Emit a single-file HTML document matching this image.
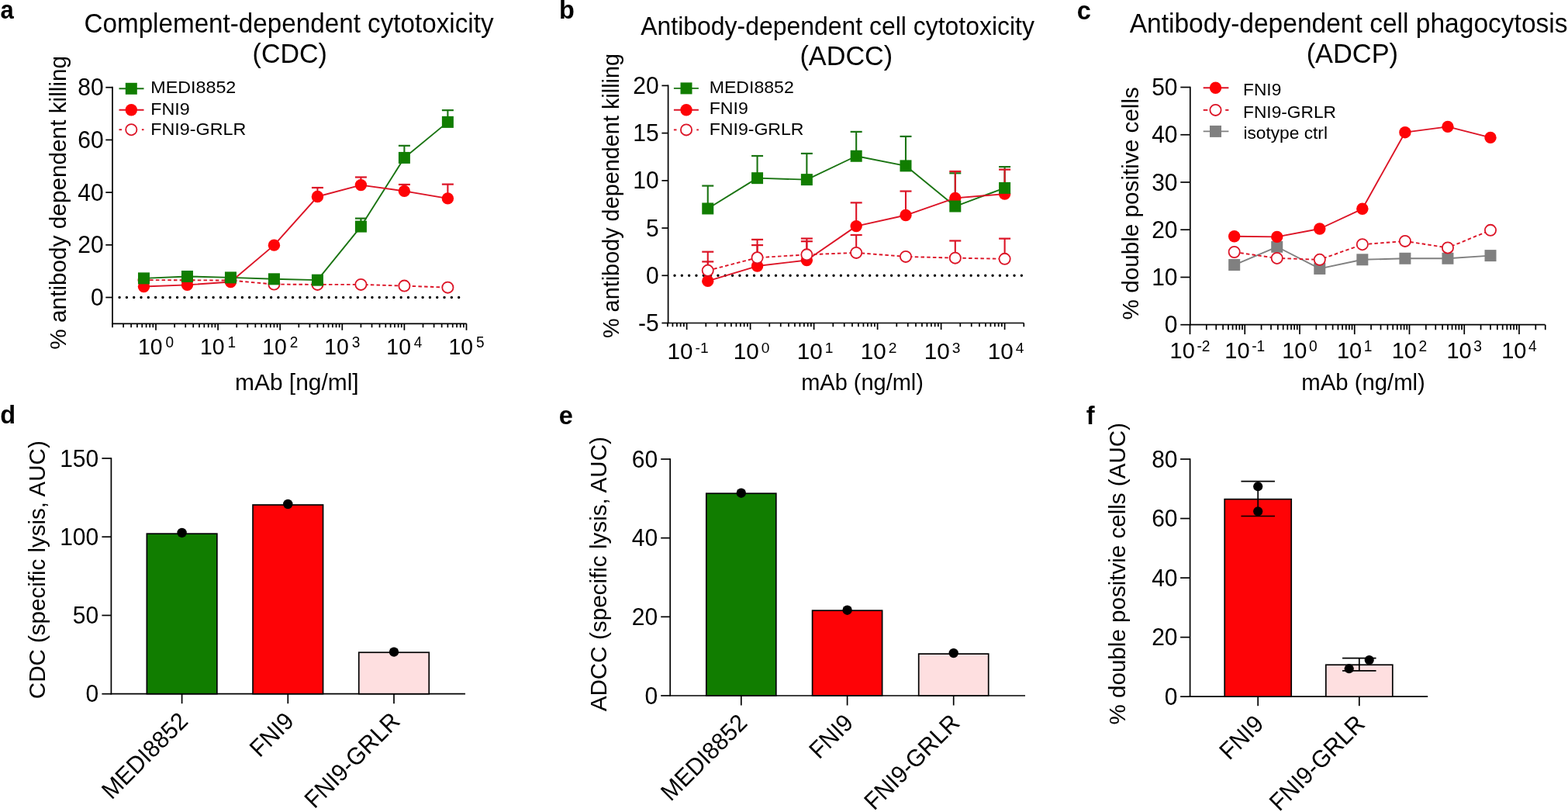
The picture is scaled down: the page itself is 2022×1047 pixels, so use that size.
<!DOCTYPE html>
<html><head><meta charset="utf-8"><title>Figure</title>
<style>
html,body{margin:0;padding:0;background:#fff;overflow:hidden;width:2022px;height:1047px}
svg{display:block}
text{font-family:'Liberation Sans',Arial,sans-serif;fill:#000}
</style></head>
<body>
<svg width="2022" height="1047" viewBox="0 0 2022 1047">
<rect width="2022" height="1047" fill="#fff"/>
<line x1="145.00" y1="111.85" x2="145.00" y2="418.15" stroke="#000" stroke-width="1.7"/>
<line x1="144.15" y1="417.30" x2="601.60" y2="417.30" stroke="#000" stroke-width="1.7"/>
<line x1="136.30" y1="383.50" x2="145.00" y2="383.50" stroke="#000" stroke-width="1.7"/>
<text transform="translate(133.60,394.10) scale(1,1.04)" style="font-size:30px" text-anchor="end">0</text>
<line x1="136.30" y1="315.80" x2="145.00" y2="315.80" stroke="#000" stroke-width="1.7"/>
<text transform="translate(133.60,326.40) scale(1,1.04)" style="font-size:30px" text-anchor="end">20</text>
<line x1="136.30" y1="248.10" x2="145.00" y2="248.10" stroke="#000" stroke-width="1.7"/>
<text transform="translate(133.60,258.70) scale(1,1.04)" style="font-size:30px" text-anchor="end">40</text>
<line x1="136.30" y1="180.40" x2="145.00" y2="180.40" stroke="#000" stroke-width="1.7"/>
<text transform="translate(133.60,191.00) scale(1,1.04)" style="font-size:30px" text-anchor="end">60</text>
<line x1="136.30" y1="112.70" x2="145.00" y2="112.70" stroke="#000" stroke-width="1.7"/>
<text transform="translate(133.60,123.30) scale(1,1.04)" style="font-size:30px" text-anchor="end">80</text>
<line x1="145.01" y1="417.30" x2="145.01" y2="422.30" stroke="#000" stroke-width="1.7"/>
<line x1="159.12" y1="417.30" x2="159.12" y2="422.30" stroke="#000" stroke-width="1.7"/>
<line x1="169.13" y1="417.30" x2="169.13" y2="422.30" stroke="#000" stroke-width="1.7"/>
<line x1="176.89" y1="417.30" x2="176.89" y2="422.30" stroke="#000" stroke-width="1.7"/>
<line x1="183.23" y1="417.30" x2="183.23" y2="422.30" stroke="#000" stroke-width="1.7"/>
<line x1="188.59" y1="417.30" x2="188.59" y2="422.30" stroke="#000" stroke-width="1.7"/>
<line x1="193.24" y1="417.30" x2="193.24" y2="422.30" stroke="#000" stroke-width="1.7"/>
<line x1="197.33" y1="417.30" x2="197.33" y2="422.30" stroke="#000" stroke-width="1.7"/>
<line x1="201.00" y1="417.30" x2="201.00" y2="425.80" stroke="#000" stroke-width="1.7"/>
<line x1="225.11" y1="417.30" x2="225.11" y2="422.30" stroke="#000" stroke-width="1.7"/>
<line x1="239.22" y1="417.30" x2="239.22" y2="422.30" stroke="#000" stroke-width="1.7"/>
<line x1="249.23" y1="417.30" x2="249.23" y2="422.30" stroke="#000" stroke-width="1.7"/>
<line x1="256.99" y1="417.30" x2="256.99" y2="422.30" stroke="#000" stroke-width="1.7"/>
<line x1="263.33" y1="417.30" x2="263.33" y2="422.30" stroke="#000" stroke-width="1.7"/>
<line x1="268.69" y1="417.30" x2="268.69" y2="422.30" stroke="#000" stroke-width="1.7"/>
<line x1="273.34" y1="417.30" x2="273.34" y2="422.30" stroke="#000" stroke-width="1.7"/>
<line x1="277.43" y1="417.30" x2="277.43" y2="422.30" stroke="#000" stroke-width="1.7"/>
<line x1="281.10" y1="417.30" x2="281.10" y2="425.80" stroke="#000" stroke-width="1.7"/>
<line x1="305.21" y1="417.30" x2="305.21" y2="422.30" stroke="#000" stroke-width="1.7"/>
<line x1="319.32" y1="417.30" x2="319.32" y2="422.30" stroke="#000" stroke-width="1.7"/>
<line x1="329.33" y1="417.30" x2="329.33" y2="422.30" stroke="#000" stroke-width="1.7"/>
<line x1="337.09" y1="417.30" x2="337.09" y2="422.30" stroke="#000" stroke-width="1.7"/>
<line x1="343.43" y1="417.30" x2="343.43" y2="422.30" stroke="#000" stroke-width="1.7"/>
<line x1="348.79" y1="417.30" x2="348.79" y2="422.30" stroke="#000" stroke-width="1.7"/>
<line x1="353.44" y1="417.30" x2="353.44" y2="422.30" stroke="#000" stroke-width="1.7"/>
<line x1="357.53" y1="417.30" x2="357.53" y2="422.30" stroke="#000" stroke-width="1.7"/>
<line x1="361.20" y1="417.30" x2="361.20" y2="425.80" stroke="#000" stroke-width="1.7"/>
<line x1="385.31" y1="417.30" x2="385.31" y2="422.30" stroke="#000" stroke-width="1.7"/>
<line x1="399.42" y1="417.30" x2="399.42" y2="422.30" stroke="#000" stroke-width="1.7"/>
<line x1="409.43" y1="417.30" x2="409.43" y2="422.30" stroke="#000" stroke-width="1.7"/>
<line x1="417.19" y1="417.30" x2="417.19" y2="422.30" stroke="#000" stroke-width="1.7"/>
<line x1="423.53" y1="417.30" x2="423.53" y2="422.30" stroke="#000" stroke-width="1.7"/>
<line x1="428.89" y1="417.30" x2="428.89" y2="422.30" stroke="#000" stroke-width="1.7"/>
<line x1="433.54" y1="417.30" x2="433.54" y2="422.30" stroke="#000" stroke-width="1.7"/>
<line x1="437.63" y1="417.30" x2="437.63" y2="422.30" stroke="#000" stroke-width="1.7"/>
<line x1="441.30" y1="417.30" x2="441.30" y2="425.80" stroke="#000" stroke-width="1.7"/>
<line x1="465.41" y1="417.30" x2="465.41" y2="422.30" stroke="#000" stroke-width="1.7"/>
<line x1="479.52" y1="417.30" x2="479.52" y2="422.30" stroke="#000" stroke-width="1.7"/>
<line x1="489.53" y1="417.30" x2="489.53" y2="422.30" stroke="#000" stroke-width="1.7"/>
<line x1="497.29" y1="417.30" x2="497.29" y2="422.30" stroke="#000" stroke-width="1.7"/>
<line x1="503.63" y1="417.30" x2="503.63" y2="422.30" stroke="#000" stroke-width="1.7"/>
<line x1="508.99" y1="417.30" x2="508.99" y2="422.30" stroke="#000" stroke-width="1.7"/>
<line x1="513.64" y1="417.30" x2="513.64" y2="422.30" stroke="#000" stroke-width="1.7"/>
<line x1="517.73" y1="417.30" x2="517.73" y2="422.30" stroke="#000" stroke-width="1.7"/>
<line x1="521.40" y1="417.30" x2="521.40" y2="425.80" stroke="#000" stroke-width="1.7"/>
<line x1="545.51" y1="417.30" x2="545.51" y2="422.30" stroke="#000" stroke-width="1.7"/>
<line x1="559.62" y1="417.30" x2="559.62" y2="422.30" stroke="#000" stroke-width="1.7"/>
<line x1="569.63" y1="417.30" x2="569.63" y2="422.30" stroke="#000" stroke-width="1.7"/>
<line x1="577.39" y1="417.30" x2="577.39" y2="422.30" stroke="#000" stroke-width="1.7"/>
<line x1="583.73" y1="417.30" x2="583.73" y2="422.30" stroke="#000" stroke-width="1.7"/>
<line x1="589.09" y1="417.30" x2="589.09" y2="422.30" stroke="#000" stroke-width="1.7"/>
<line x1="593.74" y1="417.30" x2="593.74" y2="422.30" stroke="#000" stroke-width="1.7"/>
<line x1="597.83" y1="417.30" x2="597.83" y2="422.30" stroke="#000" stroke-width="1.7"/>
<line x1="601.50" y1="417.30" x2="601.50" y2="425.80" stroke="#000" stroke-width="1.7"/>
<text transform="translate(177.97,456.70) scale(1,1.05)" style="font-size:28.4px">10</text>
<text transform="translate(213.46,447.50) scale(1,1.05)" style="font-size:19px">0</text>
<text transform="translate(258.07,456.70) scale(1,1.05)" style="font-size:28.4px">10</text>
<text transform="translate(293.56,447.50) scale(1,1.05)" style="font-size:19px">1</text>
<text transform="translate(338.17,456.70) scale(1,1.05)" style="font-size:28.4px">10</text>
<text transform="translate(373.66,447.50) scale(1,1.05)" style="font-size:19px">2</text>
<text transform="translate(418.27,456.70) scale(1,1.05)" style="font-size:28.4px">10</text>
<text transform="translate(453.76,447.50) scale(1,1.05)" style="font-size:19px">3</text>
<text transform="translate(498.37,456.70) scale(1,1.05)" style="font-size:28.4px">10</text>
<text transform="translate(533.86,447.50) scale(1,1.05)" style="font-size:19px">4</text>
<text transform="translate(578.47,456.70) scale(1,1.05)" style="font-size:28.4px">10</text>
<text transform="translate(613.96,447.50) scale(1,1.05)" style="font-size:19px">5</text>
<line x1="154.10" y1="383.50" x2="600.50" y2="383.50" stroke="#000" stroke-width="3.4" stroke-linecap="round" stroke-dasharray="0 9.31"/>
<line x1="465.41" y1="292.11" x2="465.41" y2="281.61" stroke="#1a7412" stroke-width="2.1"/>
<line x1="457.91" y1="281.61" x2="472.91" y2="281.61" stroke="#1a7412" stroke-width="2.2"/>
<line x1="521.40" y1="203.42" x2="521.40" y2="187.85" stroke="#1a7412" stroke-width="2.1"/>
<line x1="513.90" y1="187.85" x2="528.90" y2="187.85" stroke="#1a7412" stroke-width="2.2"/>
<line x1="577.39" y1="157.38" x2="577.39" y2="142.15" stroke="#1a7412" stroke-width="2.1"/>
<line x1="569.89" y1="142.15" x2="584.89" y2="142.15" stroke="#1a7412" stroke-width="2.2"/>
<polyline points="185.48,358.86 241.46,356.45 297.45,357.88 353.44,359.81 409.43,361.16 465.41,292.11 521.40,203.42 577.39,157.38" fill="none" stroke="#1a7412" stroke-width="1.9" stroke-linejoin="round"/>
<line x1="409.43" y1="253.52" x2="409.43" y2="242.01" stroke="#dc1426" stroke-width="2.1"/>
<line x1="401.93" y1="242.01" x2="416.93" y2="242.01" stroke="#dc1426" stroke-width="2.2"/>
<line x1="465.41" y1="238.62" x2="465.41" y2="228.47" stroke="#dc1426" stroke-width="2.1"/>
<line x1="457.91" y1="228.47" x2="472.91" y2="228.47" stroke="#dc1426" stroke-width="2.2"/>
<line x1="521.40" y1="246.41" x2="521.40" y2="237.94" stroke="#dc1426" stroke-width="2.1"/>
<line x1="513.90" y1="237.94" x2="528.90" y2="237.94" stroke="#dc1426" stroke-width="2.2"/>
<line x1="577.39" y1="255.89" x2="577.39" y2="237.61" stroke="#dc1426" stroke-width="2.1"/>
<line x1="569.89" y1="237.61" x2="584.89" y2="237.61" stroke="#dc1426" stroke-width="2.2"/>
<polyline points="185.48,369.49 241.46,367.39 297.45,363.56 353.44,316.14 409.43,253.52 465.41,238.62 521.40,246.41 577.39,255.89" fill="none" stroke="#dc1426" stroke-width="1.9" stroke-linejoin="round"/>
<polyline points="185.48,361.06 241.46,361.26 297.45,361.57 353.44,366.57 409.43,366.91 465.41,366.91 521.40,368.61 577.39,370.64" fill="none" stroke="#dc1426" stroke-width="1.9" stroke-linejoin="round" stroke-dasharray="4.5 3.2"/>
<circle cx="185.48" cy="361.06" r="7.10" fill="#fff" stroke="#dc1426" stroke-width="1.8"/>
<circle cx="241.46" cy="361.26" r="7.10" fill="#fff" stroke="#dc1426" stroke-width="1.8"/>
<circle cx="297.45" cy="361.57" r="7.10" fill="#fff" stroke="#dc1426" stroke-width="1.8"/>
<circle cx="353.44" cy="366.57" r="7.10" fill="#fff" stroke="#dc1426" stroke-width="1.8"/>
<circle cx="409.43" cy="366.91" r="7.10" fill="#fff" stroke="#dc1426" stroke-width="1.8"/>
<circle cx="465.41" cy="366.91" r="7.10" fill="#fff" stroke="#dc1426" stroke-width="1.8"/>
<circle cx="521.40" cy="368.61" r="7.10" fill="#fff" stroke="#dc1426" stroke-width="1.8"/>
<circle cx="577.39" cy="370.64" r="7.10" fill="#fff" stroke="#dc1426" stroke-width="1.8"/>
<circle cx="185.48" cy="369.49" r="7.70" fill="#fe0306"/>
<circle cx="241.46" cy="367.39" r="7.70" fill="#fe0306"/>
<circle cx="297.45" cy="363.56" r="7.70" fill="#fe0306"/>
<circle cx="353.44" cy="316.14" r="7.70" fill="#fe0306"/>
<circle cx="409.43" cy="253.52" r="7.70" fill="#fe0306"/>
<circle cx="465.41" cy="238.62" r="7.70" fill="#fe0306"/>
<circle cx="521.40" cy="246.41" r="7.70" fill="#fe0306"/>
<circle cx="577.39" cy="255.89" r="7.70" fill="#fe0306"/>
<rect x="177.98" y="351.36" width="15.00" height="15.00" fill="#117d00"/>
<rect x="233.96" y="348.95" width="15.00" height="15.00" fill="#117d00"/>
<rect x="289.95" y="350.38" width="15.00" height="15.00" fill="#117d00"/>
<rect x="345.94" y="352.31" width="15.00" height="15.00" fill="#117d00"/>
<rect x="401.93" y="353.66" width="15.00" height="15.00" fill="#117d00"/>
<rect x="457.91" y="284.61" width="15.00" height="15.00" fill="#117d00"/>
<rect x="513.90" y="195.92" width="15.00" height="15.00" fill="#117d00"/>
<rect x="569.89" y="149.88" width="15.00" height="15.00" fill="#117d00"/>
<line x1="153.50" y1="114.30" x2="185.50" y2="114.30" stroke="#1a7412" stroke-width="1.9"/>
<rect x="161.80" y="106.80" width="15.00" height="15.00" fill="#117d00"/>
<line x1="153.50" y1="141.80" x2="185.50" y2="141.80" stroke="#dc1426" stroke-width="1.9"/>
<circle cx="169.30" cy="141.80" r="7.70" fill="#fe0306"/>
<line x1="153.50" y1="167.20" x2="157.10" y2="167.20" stroke="#dc1426" stroke-width="1.9"/>
<line x1="182.90" y1="167.20" x2="185.50" y2="167.20" stroke="#dc1426" stroke-width="1.9"/>
<circle cx="169.30" cy="167.20" r="7.10" fill="#fff" stroke="#dc1426" stroke-width="1.8"/>
<text transform="translate(194.29,120.30) scale(1,0.96)" style="font-size:23.3px">MEDI8852</text>
<text transform="translate(194.29,147.70) scale(1,0.96)" style="font-size:23.3px">FNI9</text>
<text transform="translate(194.29,173.90) scale(1,0.96)" style="font-size:23.3px">FNI9-GRLR</text>
<text transform="translate(108.52,42.20) scale(1,1.045)" style="font-size:33.23px">Complement-dependent cytotoxicity</text>
<text transform="translate(325.59,81.00) scale(1,1.045)" style="font-size:33.97px">(CDC)</text>
<text transform="translate(303.02,503.00)" style="font-size:29.93px">mAb [ng/ml]</text>
<text transform="translate(85.10,450.66) rotate(-90)" style="font-size:29.76px">% antibody dependent killing</text>
<text transform="translate(0.60,23.90) scale(1,1.05)" style="font-size:31px;font-weight:bold">a</text>
<line x1="861.60" y1="109.55" x2="861.60" y2="417.35" stroke="#000" stroke-width="1.7"/>
<line x1="860.75" y1="416.50" x2="1320.30" y2="416.50" stroke="#000" stroke-width="1.7"/>
<line x1="853.40" y1="416.50" x2="861.60" y2="416.50" stroke="#000" stroke-width="1.7"/>
<text transform="translate(849.60,427.10) scale(1,1.04)" style="font-size:30px" text-anchor="end">-5</text>
<line x1="853.40" y1="355.28" x2="861.60" y2="355.28" stroke="#000" stroke-width="1.7"/>
<text transform="translate(849.60,365.88) scale(1,1.04)" style="font-size:30px" text-anchor="end">0</text>
<line x1="853.40" y1="294.06" x2="861.60" y2="294.06" stroke="#000" stroke-width="1.7"/>
<text transform="translate(849.60,304.66) scale(1,1.04)" style="font-size:30px" text-anchor="end">5</text>
<line x1="853.40" y1="232.84" x2="861.60" y2="232.84" stroke="#000" stroke-width="1.7"/>
<text transform="translate(849.60,243.44) scale(1,1.04)" style="font-size:30px" text-anchor="end">10</text>
<line x1="853.40" y1="171.62" x2="861.60" y2="171.62" stroke="#000" stroke-width="1.7"/>
<text transform="translate(849.60,182.22) scale(1,1.04)" style="font-size:30px" text-anchor="end">15</text>
<line x1="853.40" y1="110.40" x2="861.60" y2="110.40" stroke="#000" stroke-width="1.7"/>
<text transform="translate(849.60,121.00) scale(1,1.04)" style="font-size:30px" text-anchor="end">20</text>
<line x1="860.92" y1="416.50" x2="860.92" y2="421.30" stroke="#000" stroke-width="1.7"/>
<line x1="867.41" y1="416.50" x2="867.41" y2="421.30" stroke="#000" stroke-width="1.7"/>
<line x1="872.90" y1="416.50" x2="872.90" y2="421.30" stroke="#000" stroke-width="1.7"/>
<line x1="877.65" y1="416.50" x2="877.65" y2="421.30" stroke="#000" stroke-width="1.7"/>
<line x1="881.85" y1="416.50" x2="881.85" y2="421.30" stroke="#000" stroke-width="1.7"/>
<line x1="885.60" y1="416.50" x2="885.60" y2="425.10" stroke="#000" stroke-width="1.7"/>
<line x1="910.28" y1="416.50" x2="910.28" y2="421.30" stroke="#000" stroke-width="1.7"/>
<line x1="924.72" y1="416.50" x2="924.72" y2="421.30" stroke="#000" stroke-width="1.7"/>
<line x1="934.97" y1="416.50" x2="934.97" y2="421.30" stroke="#000" stroke-width="1.7"/>
<line x1="942.92" y1="416.50" x2="942.92" y2="421.30" stroke="#000" stroke-width="1.7"/>
<line x1="949.41" y1="416.50" x2="949.41" y2="421.30" stroke="#000" stroke-width="1.7"/>
<line x1="954.90" y1="416.50" x2="954.90" y2="421.30" stroke="#000" stroke-width="1.7"/>
<line x1="959.65" y1="416.50" x2="959.65" y2="421.30" stroke="#000" stroke-width="1.7"/>
<line x1="963.85" y1="416.50" x2="963.85" y2="421.30" stroke="#000" stroke-width="1.7"/>
<line x1="967.60" y1="416.50" x2="967.60" y2="425.10" stroke="#000" stroke-width="1.7"/>
<line x1="992.28" y1="416.50" x2="992.28" y2="421.30" stroke="#000" stroke-width="1.7"/>
<line x1="1006.72" y1="416.50" x2="1006.72" y2="421.30" stroke="#000" stroke-width="1.7"/>
<line x1="1016.97" y1="416.50" x2="1016.97" y2="421.30" stroke="#000" stroke-width="1.7"/>
<line x1="1024.92" y1="416.50" x2="1024.92" y2="421.30" stroke="#000" stroke-width="1.7"/>
<line x1="1031.41" y1="416.50" x2="1031.41" y2="421.30" stroke="#000" stroke-width="1.7"/>
<line x1="1036.90" y1="416.50" x2="1036.90" y2="421.30" stroke="#000" stroke-width="1.7"/>
<line x1="1041.65" y1="416.50" x2="1041.65" y2="421.30" stroke="#000" stroke-width="1.7"/>
<line x1="1045.85" y1="416.50" x2="1045.85" y2="421.30" stroke="#000" stroke-width="1.7"/>
<line x1="1049.60" y1="416.50" x2="1049.60" y2="425.10" stroke="#000" stroke-width="1.7"/>
<line x1="1074.28" y1="416.50" x2="1074.28" y2="421.30" stroke="#000" stroke-width="1.7"/>
<line x1="1088.72" y1="416.50" x2="1088.72" y2="421.30" stroke="#000" stroke-width="1.7"/>
<line x1="1098.97" y1="416.50" x2="1098.97" y2="421.30" stroke="#000" stroke-width="1.7"/>
<line x1="1106.92" y1="416.50" x2="1106.92" y2="421.30" stroke="#000" stroke-width="1.7"/>
<line x1="1113.41" y1="416.50" x2="1113.41" y2="421.30" stroke="#000" stroke-width="1.7"/>
<line x1="1118.90" y1="416.50" x2="1118.90" y2="421.30" stroke="#000" stroke-width="1.7"/>
<line x1="1123.65" y1="416.50" x2="1123.65" y2="421.30" stroke="#000" stroke-width="1.7"/>
<line x1="1127.85" y1="416.50" x2="1127.85" y2="421.30" stroke="#000" stroke-width="1.7"/>
<line x1="1131.60" y1="416.50" x2="1131.60" y2="425.10" stroke="#000" stroke-width="1.7"/>
<line x1="1156.28" y1="416.50" x2="1156.28" y2="421.30" stroke="#000" stroke-width="1.7"/>
<line x1="1170.72" y1="416.50" x2="1170.72" y2="421.30" stroke="#000" stroke-width="1.7"/>
<line x1="1180.97" y1="416.50" x2="1180.97" y2="421.30" stroke="#000" stroke-width="1.7"/>
<line x1="1188.92" y1="416.50" x2="1188.92" y2="421.30" stroke="#000" stroke-width="1.7"/>
<line x1="1195.41" y1="416.50" x2="1195.41" y2="421.30" stroke="#000" stroke-width="1.7"/>
<line x1="1200.90" y1="416.50" x2="1200.90" y2="421.30" stroke="#000" stroke-width="1.7"/>
<line x1="1205.65" y1="416.50" x2="1205.65" y2="421.30" stroke="#000" stroke-width="1.7"/>
<line x1="1209.85" y1="416.50" x2="1209.85" y2="421.30" stroke="#000" stroke-width="1.7"/>
<line x1="1213.60" y1="416.50" x2="1213.60" y2="425.10" stroke="#000" stroke-width="1.7"/>
<line x1="1238.28" y1="416.50" x2="1238.28" y2="421.30" stroke="#000" stroke-width="1.7"/>
<line x1="1252.72" y1="416.50" x2="1252.72" y2="421.30" stroke="#000" stroke-width="1.7"/>
<line x1="1262.97" y1="416.50" x2="1262.97" y2="421.30" stroke="#000" stroke-width="1.7"/>
<line x1="1270.92" y1="416.50" x2="1270.92" y2="421.30" stroke="#000" stroke-width="1.7"/>
<line x1="1277.41" y1="416.50" x2="1277.41" y2="421.30" stroke="#000" stroke-width="1.7"/>
<line x1="1282.90" y1="416.50" x2="1282.90" y2="421.30" stroke="#000" stroke-width="1.7"/>
<line x1="1287.65" y1="416.50" x2="1287.65" y2="421.30" stroke="#000" stroke-width="1.7"/>
<line x1="1291.85" y1="416.50" x2="1291.85" y2="421.30" stroke="#000" stroke-width="1.7"/>
<line x1="1295.60" y1="416.50" x2="1295.60" y2="425.10" stroke="#000" stroke-width="1.7"/>
<line x1="1320.28" y1="416.50" x2="1320.28" y2="421.30" stroke="#000" stroke-width="1.7"/>
<text transform="translate(860.60,463.10)" style="font-size:29.7px">10</text>
<text transform="translate(896.53,454.50)" style="font-size:19.2px">-1</text>
<text transform="translate(945.79,463.10)" style="font-size:29.7px">10</text>
<text transform="translate(981.73,454.50)" style="font-size:19.2px">0</text>
<text transform="translate(1027.79,463.10)" style="font-size:29.7px">10</text>
<text transform="translate(1063.73,454.50)" style="font-size:19.2px">1</text>
<text transform="translate(1109.79,463.10)" style="font-size:29.7px">10</text>
<text transform="translate(1145.73,454.50)" style="font-size:19.2px">2</text>
<text transform="translate(1191.79,463.10)" style="font-size:29.7px">10</text>
<text transform="translate(1227.73,454.50)" style="font-size:19.2px">3</text>
<text transform="translate(1273.79,463.10)" style="font-size:29.7px">10</text>
<text transform="translate(1309.73,454.50)" style="font-size:19.2px">4</text>
<line x1="870.00" y1="355.28" x2="1318.00" y2="355.28" stroke="#000" stroke-width="3.4" stroke-linecap="round" stroke-dasharray="0 9.32"/>
<line x1="912.75" y1="268.96" x2="912.75" y2="239.57" stroke="#1a7412" stroke-width="2.1"/>
<line x1="905.25" y1="239.57" x2="920.25" y2="239.57" stroke="#1a7412" stroke-width="2.2"/>
<line x1="976.56" y1="229.66" x2="976.56" y2="201.01" stroke="#1a7412" stroke-width="2.1"/>
<line x1="969.06" y1="201.01" x2="984.06" y2="201.01" stroke="#1a7412" stroke-width="2.2"/>
<line x1="1040.37" y1="231.62" x2="1040.37" y2="197.94" stroke="#1a7412" stroke-width="2.1"/>
<line x1="1032.87" y1="197.94" x2="1047.87" y2="197.94" stroke="#1a7412" stroke-width="2.2"/>
<line x1="1104.17" y1="201.25" x2="1104.17" y2="169.91" stroke="#1a7412" stroke-width="2.1"/>
<line x1="1096.67" y1="169.91" x2="1111.67" y2="169.91" stroke="#1a7412" stroke-width="2.2"/>
<line x1="1167.98" y1="213.86" x2="1167.98" y2="175.91" stroke="#1a7412" stroke-width="2.1"/>
<line x1="1160.48" y1="175.91" x2="1175.48" y2="175.91" stroke="#1a7412" stroke-width="2.2"/>
<line x1="1231.79" y1="266.02" x2="1231.79" y2="223.29" stroke="#1a7412" stroke-width="2.1"/>
<line x1="1224.29" y1="223.29" x2="1239.29" y2="223.29" stroke="#1a7412" stroke-width="2.2"/>
<line x1="1295.60" y1="242.39" x2="1295.60" y2="215.09" stroke="#1a7412" stroke-width="2.1"/>
<line x1="1288.10" y1="215.09" x2="1303.10" y2="215.09" stroke="#1a7412" stroke-width="2.2"/>
<polyline points="912.75,268.96 976.56,229.66 1040.37,231.62 1104.17,201.25 1167.98,213.86 1231.79,266.02 1295.60,242.39" fill="none" stroke="#1a7412" stroke-width="1.9" stroke-linejoin="round"/>
<line x1="912.75" y1="362.38" x2="912.75" y2="337.40" stroke="#dc1426" stroke-width="2.1"/>
<line x1="905.25" y1="337.40" x2="920.25" y2="337.40" stroke="#dc1426" stroke-width="2.2"/>
<line x1="976.56" y1="343.04" x2="976.56" y2="316.10" stroke="#dc1426" stroke-width="2.1"/>
<line x1="969.06" y1="316.10" x2="984.06" y2="316.10" stroke="#dc1426" stroke-width="2.2"/>
<line x1="1040.37" y1="335.44" x2="1040.37" y2="307.53" stroke="#dc1426" stroke-width="2.1"/>
<line x1="1032.87" y1="307.53" x2="1047.87" y2="307.53" stroke="#dc1426" stroke-width="2.2"/>
<line x1="1104.17" y1="291.61" x2="1104.17" y2="261.37" stroke="#dc1426" stroke-width="2.1"/>
<line x1="1096.67" y1="261.37" x2="1111.67" y2="261.37" stroke="#dc1426" stroke-width="2.2"/>
<line x1="1167.98" y1="277.53" x2="1167.98" y2="246.55" stroke="#dc1426" stroke-width="2.1"/>
<line x1="1160.48" y1="246.55" x2="1175.48" y2="246.55" stroke="#dc1426" stroke-width="2.2"/>
<line x1="1231.79" y1="255.37" x2="1231.79" y2="220.96" stroke="#dc1426" stroke-width="2.1"/>
<line x1="1224.29" y1="220.96" x2="1239.29" y2="220.96" stroke="#dc1426" stroke-width="2.2"/>
<line x1="1295.60" y1="250.10" x2="1295.60" y2="218.64" stroke="#dc1426" stroke-width="2.1"/>
<line x1="1288.10" y1="218.64" x2="1303.10" y2="218.64" stroke="#dc1426" stroke-width="2.2"/>
<polyline points="912.75,362.38 976.56,343.04 1040.37,335.44 1104.17,291.61 1167.98,277.53 1231.79,255.37 1295.60,250.10" fill="none" stroke="#dc1426" stroke-width="1.9" stroke-linejoin="round"/>
<line x1="912.75" y1="348.79" x2="912.75" y2="324.67" stroke="#dc1426" stroke-width="2.1"/>
<line x1="905.25" y1="324.67" x2="920.25" y2="324.67" stroke="#dc1426" stroke-width="2.2"/>
<line x1="976.56" y1="332.26" x2="976.56" y2="308.88" stroke="#dc1426" stroke-width="2.1"/>
<line x1="969.06" y1="308.88" x2="984.06" y2="308.88" stroke="#dc1426" stroke-width="2.2"/>
<line x1="1040.37" y1="328.34" x2="1040.37" y2="311.20" stroke="#dc1426" stroke-width="2.1"/>
<line x1="1032.87" y1="311.20" x2="1047.87" y2="311.20" stroke="#dc1426" stroke-width="2.2"/>
<line x1="1104.17" y1="325.89" x2="1104.17" y2="303.00" stroke="#dc1426" stroke-width="2.1"/>
<line x1="1096.67" y1="303.00" x2="1111.67" y2="303.00" stroke="#dc1426" stroke-width="2.2"/>
<line x1="1231.79" y1="332.63" x2="1231.79" y2="310.47" stroke="#dc1426" stroke-width="2.1"/>
<line x1="1224.29" y1="310.47" x2="1239.29" y2="310.47" stroke="#dc1426" stroke-width="2.2"/>
<line x1="1295.60" y1="333.85" x2="1295.60" y2="307.65" stroke="#dc1426" stroke-width="2.1"/>
<line x1="1288.10" y1="307.65" x2="1303.10" y2="307.65" stroke="#dc1426" stroke-width="2.2"/>
<polyline points="912.75,348.79 976.56,332.26 1040.37,328.34 1104.17,325.89 1167.98,330.91 1231.79,332.63 1295.60,333.85" fill="none" stroke="#dc1426" stroke-width="1.9" stroke-linejoin="round" stroke-dasharray="4.5 3.2"/>
<circle cx="912.75" cy="362.38" r="7.70" fill="#fe0306"/>
<circle cx="976.56" cy="343.04" r="7.70" fill="#fe0306"/>
<circle cx="1040.37" cy="335.44" r="7.70" fill="#fe0306"/>
<circle cx="1104.17" cy="291.61" r="7.70" fill="#fe0306"/>
<circle cx="1167.98" cy="277.53" r="7.70" fill="#fe0306"/>
<circle cx="1231.79" cy="255.37" r="7.70" fill="#fe0306"/>
<circle cx="1295.60" cy="250.10" r="7.70" fill="#fe0306"/>
<circle cx="912.75" cy="348.79" r="7.10" fill="#fff" stroke="#dc1426" stroke-width="1.8"/>
<circle cx="976.56" cy="332.26" r="7.10" fill="#fff" stroke="#dc1426" stroke-width="1.8"/>
<circle cx="1040.37" cy="328.34" r="7.10" fill="#fff" stroke="#dc1426" stroke-width="1.8"/>
<circle cx="1104.17" cy="325.89" r="7.10" fill="#fff" stroke="#dc1426" stroke-width="1.8"/>
<circle cx="1167.98" cy="330.91" r="7.10" fill="#fff" stroke="#dc1426" stroke-width="1.8"/>
<circle cx="1231.79" cy="332.63" r="7.10" fill="#fff" stroke="#dc1426" stroke-width="1.8"/>
<circle cx="1295.60" cy="333.85" r="7.10" fill="#fff" stroke="#dc1426" stroke-width="1.8"/>
<rect x="905.25" y="261.46" width="15.00" height="15.00" fill="#117d00"/>
<rect x="969.06" y="222.16" width="15.00" height="15.00" fill="#117d00"/>
<rect x="1032.87" y="224.12" width="15.00" height="15.00" fill="#117d00"/>
<rect x="1096.67" y="193.75" width="15.00" height="15.00" fill="#117d00"/>
<rect x="1160.48" y="206.36" width="15.00" height="15.00" fill="#117d00"/>
<rect x="1224.29" y="258.52" width="15.00" height="15.00" fill="#117d00"/>
<rect x="1288.10" y="234.89" width="15.00" height="15.00" fill="#117d00"/>
<line x1="868.90" y1="113.90" x2="900.90" y2="113.90" stroke="#1a7412" stroke-width="1.9"/>
<rect x="877.50" y="106.40" width="15.00" height="15.00" fill="#117d00"/>
<line x1="868.90" y1="141.70" x2="900.90" y2="141.70" stroke="#dc1426" stroke-width="1.9"/>
<circle cx="885.00" cy="141.70" r="7.70" fill="#fe0306"/>
<line x1="868.90" y1="167.40" x2="872.50" y2="167.40" stroke="#dc1426" stroke-width="1.9"/>
<line x1="898.30" y1="167.40" x2="900.90" y2="167.40" stroke="#dc1426" stroke-width="1.9"/>
<circle cx="885.00" cy="167.40" r="7.10" fill="#fff" stroke="#dc1426" stroke-width="1.8"/>
<text transform="translate(914.71,119.80) scale(1,0.96)" style="font-size:23.1px">MEDI8852</text>
<text transform="translate(914.71,147.40) scale(1,0.96)" style="font-size:23.1px">FNI9</text>
<text transform="translate(914.71,174.00) scale(1,0.96)" style="font-size:23.1px">FNI9-GRLR</text>
<text transform="translate(826.25,45.30) scale(1,1.045)" style="font-size:31.95px">Antibody-dependent cell cytotoxicity</text>
<text transform="translate(1031.48,83.90) scale(1,1.045)" style="font-size:34.22px">(ADCC)</text>
<text transform="translate(1033.19,503.00)" style="font-size:28.98px">mAb (ng/ml)</text>
<text transform="translate(798.20,436.02) rotate(-90)" style="font-size:28.84px">% antibody dependent killing</text>
<text transform="translate(720.90,24.10)" style="font-size:32.5px;font-weight:bold">b</text>
<line x1="1534.80" y1="111.65" x2="1534.80" y2="419.55" stroke="#000" stroke-width="1.7"/>
<line x1="1533.95" y1="418.70" x2="1992.50" y2="418.70" stroke="#000" stroke-width="1.7"/>
<line x1="1522.30" y1="418.70" x2="1534.80" y2="418.70" stroke="#000" stroke-width="1.7"/>
<text transform="translate(1518.50,429.30) scale(1,1.04)" style="font-size:30px" text-anchor="end">0</text>
<line x1="1522.30" y1="357.46" x2="1534.80" y2="357.46" stroke="#000" stroke-width="1.7"/>
<text transform="translate(1518.50,368.06) scale(1,1.04)" style="font-size:30px" text-anchor="end">10</text>
<line x1="1522.30" y1="296.22" x2="1534.80" y2="296.22" stroke="#000" stroke-width="1.7"/>
<text transform="translate(1518.50,306.82) scale(1,1.04)" style="font-size:30px" text-anchor="end">20</text>
<line x1="1522.30" y1="234.98" x2="1534.80" y2="234.98" stroke="#000" stroke-width="1.7"/>
<text transform="translate(1518.50,245.58) scale(1,1.04)" style="font-size:30px" text-anchor="end">30</text>
<line x1="1522.30" y1="173.74" x2="1534.80" y2="173.74" stroke="#000" stroke-width="1.7"/>
<text transform="translate(1518.50,184.34) scale(1,1.04)" style="font-size:30px" text-anchor="end">40</text>
<line x1="1522.30" y1="112.50" x2="1534.80" y2="112.50" stroke="#000" stroke-width="1.7"/>
<text transform="translate(1518.50,123.10) scale(1,1.04)" style="font-size:30px" text-anchor="end">50</text>
<line x1="1534.50" y1="418.70" x2="1534.50" y2="431.10" stroke="#000" stroke-width="1.7"/>
<line x1="1555.80" y1="418.70" x2="1555.80" y2="425.30" stroke="#000" stroke-width="1.7"/>
<line x1="1568.26" y1="418.70" x2="1568.26" y2="425.30" stroke="#000" stroke-width="1.7"/>
<line x1="1577.10" y1="418.70" x2="1577.10" y2="425.30" stroke="#000" stroke-width="1.7"/>
<line x1="1583.95" y1="418.70" x2="1583.95" y2="425.30" stroke="#000" stroke-width="1.7"/>
<line x1="1589.55" y1="418.70" x2="1589.55" y2="425.30" stroke="#000" stroke-width="1.7"/>
<line x1="1594.29" y1="418.70" x2="1594.29" y2="425.30" stroke="#000" stroke-width="1.7"/>
<line x1="1598.39" y1="418.70" x2="1598.39" y2="425.30" stroke="#000" stroke-width="1.7"/>
<line x1="1602.01" y1="418.70" x2="1602.01" y2="425.30" stroke="#000" stroke-width="1.7"/>
<line x1="1605.25" y1="418.70" x2="1605.25" y2="431.10" stroke="#000" stroke-width="1.7"/>
<line x1="1626.55" y1="418.70" x2="1626.55" y2="425.30" stroke="#000" stroke-width="1.7"/>
<line x1="1639.01" y1="418.70" x2="1639.01" y2="425.30" stroke="#000" stroke-width="1.7"/>
<line x1="1647.85" y1="418.70" x2="1647.85" y2="425.30" stroke="#000" stroke-width="1.7"/>
<line x1="1654.70" y1="418.70" x2="1654.70" y2="425.30" stroke="#000" stroke-width="1.7"/>
<line x1="1660.30" y1="418.70" x2="1660.30" y2="425.30" stroke="#000" stroke-width="1.7"/>
<line x1="1665.04" y1="418.70" x2="1665.04" y2="425.30" stroke="#000" stroke-width="1.7"/>
<line x1="1669.14" y1="418.70" x2="1669.14" y2="425.30" stroke="#000" stroke-width="1.7"/>
<line x1="1672.76" y1="418.70" x2="1672.76" y2="425.30" stroke="#000" stroke-width="1.7"/>
<line x1="1676.00" y1="418.70" x2="1676.00" y2="431.10" stroke="#000" stroke-width="1.7"/>
<line x1="1697.30" y1="418.70" x2="1697.30" y2="425.30" stroke="#000" stroke-width="1.7"/>
<line x1="1709.76" y1="418.70" x2="1709.76" y2="425.30" stroke="#000" stroke-width="1.7"/>
<line x1="1718.60" y1="418.70" x2="1718.60" y2="425.30" stroke="#000" stroke-width="1.7"/>
<line x1="1725.45" y1="418.70" x2="1725.45" y2="425.30" stroke="#000" stroke-width="1.7"/>
<line x1="1731.05" y1="418.70" x2="1731.05" y2="425.30" stroke="#000" stroke-width="1.7"/>
<line x1="1735.79" y1="418.70" x2="1735.79" y2="425.30" stroke="#000" stroke-width="1.7"/>
<line x1="1739.89" y1="418.70" x2="1739.89" y2="425.30" stroke="#000" stroke-width="1.7"/>
<line x1="1743.51" y1="418.70" x2="1743.51" y2="425.30" stroke="#000" stroke-width="1.7"/>
<line x1="1746.75" y1="418.70" x2="1746.75" y2="431.10" stroke="#000" stroke-width="1.7"/>
<line x1="1768.05" y1="418.70" x2="1768.05" y2="425.30" stroke="#000" stroke-width="1.7"/>
<line x1="1780.51" y1="418.70" x2="1780.51" y2="425.30" stroke="#000" stroke-width="1.7"/>
<line x1="1789.35" y1="418.70" x2="1789.35" y2="425.30" stroke="#000" stroke-width="1.7"/>
<line x1="1796.20" y1="418.70" x2="1796.20" y2="425.30" stroke="#000" stroke-width="1.7"/>
<line x1="1801.80" y1="418.70" x2="1801.80" y2="425.30" stroke="#000" stroke-width="1.7"/>
<line x1="1806.54" y1="418.70" x2="1806.54" y2="425.30" stroke="#000" stroke-width="1.7"/>
<line x1="1810.64" y1="418.70" x2="1810.64" y2="425.30" stroke="#000" stroke-width="1.7"/>
<line x1="1814.26" y1="418.70" x2="1814.26" y2="425.30" stroke="#000" stroke-width="1.7"/>
<line x1="1817.50" y1="418.70" x2="1817.50" y2="431.10" stroke="#000" stroke-width="1.7"/>
<line x1="1838.80" y1="418.70" x2="1838.80" y2="425.30" stroke="#000" stroke-width="1.7"/>
<line x1="1851.26" y1="418.70" x2="1851.26" y2="425.30" stroke="#000" stroke-width="1.7"/>
<line x1="1860.10" y1="418.70" x2="1860.10" y2="425.30" stroke="#000" stroke-width="1.7"/>
<line x1="1866.95" y1="418.70" x2="1866.95" y2="425.30" stroke="#000" stroke-width="1.7"/>
<line x1="1872.55" y1="418.70" x2="1872.55" y2="425.30" stroke="#000" stroke-width="1.7"/>
<line x1="1877.29" y1="418.70" x2="1877.29" y2="425.30" stroke="#000" stroke-width="1.7"/>
<line x1="1881.39" y1="418.70" x2="1881.39" y2="425.30" stroke="#000" stroke-width="1.7"/>
<line x1="1885.01" y1="418.70" x2="1885.01" y2="425.30" stroke="#000" stroke-width="1.7"/>
<line x1="1888.25" y1="418.70" x2="1888.25" y2="431.10" stroke="#000" stroke-width="1.7"/>
<line x1="1909.55" y1="418.70" x2="1909.55" y2="425.30" stroke="#000" stroke-width="1.7"/>
<line x1="1922.01" y1="418.70" x2="1922.01" y2="425.30" stroke="#000" stroke-width="1.7"/>
<line x1="1930.85" y1="418.70" x2="1930.85" y2="425.30" stroke="#000" stroke-width="1.7"/>
<line x1="1937.70" y1="418.70" x2="1937.70" y2="425.30" stroke="#000" stroke-width="1.7"/>
<line x1="1943.30" y1="418.70" x2="1943.30" y2="425.30" stroke="#000" stroke-width="1.7"/>
<line x1="1948.04" y1="418.70" x2="1948.04" y2="425.30" stroke="#000" stroke-width="1.7"/>
<line x1="1952.14" y1="418.70" x2="1952.14" y2="425.30" stroke="#000" stroke-width="1.7"/>
<line x1="1955.76" y1="418.70" x2="1955.76" y2="425.30" stroke="#000" stroke-width="1.7"/>
<line x1="1959.00" y1="418.70" x2="1959.00" y2="431.10" stroke="#000" stroke-width="1.7"/>
<line x1="1980.30" y1="418.70" x2="1980.30" y2="425.30" stroke="#000" stroke-width="1.7"/>
<line x1="1992.76" y1="418.70" x2="1992.76" y2="425.30" stroke="#000" stroke-width="1.7"/>
<text transform="translate(1508.54,462.00) scale(1,1.03)" style="font-size:29.0px">10</text>
<text transform="translate(1543.39,453.30) scale(1,1.03)" style="font-size:19.2px">-2</text>
<text transform="translate(1579.29,462.00) scale(1,1.03)" style="font-size:29.0px">10</text>
<text transform="translate(1614.14,453.30) scale(1,1.03)" style="font-size:19.2px">-1</text>
<text transform="translate(1653.23,462.00) scale(1,1.03)" style="font-size:29.0px">10</text>
<text transform="translate(1688.09,453.30) scale(1,1.03)" style="font-size:19.2px">0</text>
<text transform="translate(1723.98,462.00) scale(1,1.03)" style="font-size:29.0px">10</text>
<text transform="translate(1758.84,453.30) scale(1,1.03)" style="font-size:19.2px">1</text>
<text transform="translate(1794.73,462.00) scale(1,1.03)" style="font-size:29.0px">10</text>
<text transform="translate(1829.59,453.30) scale(1,1.03)" style="font-size:19.2px">2</text>
<text transform="translate(1865.48,462.00) scale(1,1.03)" style="font-size:29.0px">10</text>
<text transform="translate(1900.34,453.30) scale(1,1.03)" style="font-size:19.2px">3</text>
<text transform="translate(1936.23,462.00) scale(1,1.03)" style="font-size:29.0px">10</text>
<text transform="translate(1971.09,453.30) scale(1,1.03)" style="font-size:19.2px">4</text>
<polyline points="1591.68,341.54 1646.74,318.27 1701.79,346.44 1756.84,334.80 1811.90,333.27 1866.95,333.27 1922.01,329.60" fill="none" stroke="#808080" stroke-width="1.9" stroke-linejoin="round"/>
<polyline points="1591.68,325.00 1646.74,332.96 1701.79,334.80 1756.84,315.20 1811.90,310.92 1866.95,319.49 1922.01,296.83" fill="none" stroke="#dc1426" stroke-width="1.9" stroke-linejoin="round" stroke-dasharray="4.5 3.2"/>
<polyline points="1591.68,304.79 1646.74,305.41 1701.79,295.00 1756.84,269.27 1811.90,170.68 1866.95,163.33 1922.01,177.41" fill="none" stroke="#dc1426" stroke-width="1.9" stroke-linejoin="round"/>
<rect x="1584.18" y="334.04" width="15.00" height="15.00" fill="#808080"/>
<rect x="1639.24" y="310.77" width="15.00" height="15.00" fill="#808080"/>
<rect x="1694.29" y="338.94" width="15.00" height="15.00" fill="#808080"/>
<rect x="1749.34" y="327.30" width="15.00" height="15.00" fill="#808080"/>
<rect x="1804.40" y="325.77" width="15.00" height="15.00" fill="#808080"/>
<rect x="1859.45" y="325.77" width="15.00" height="15.00" fill="#808080"/>
<rect x="1914.51" y="322.10" width="15.00" height="15.00" fill="#808080"/>
<circle cx="1591.68" cy="325.00" r="7.10" fill="#fff" stroke="#dc1426" stroke-width="1.8"/>
<circle cx="1646.74" cy="332.96" r="7.10" fill="#fff" stroke="#dc1426" stroke-width="1.8"/>
<circle cx="1701.79" cy="334.80" r="7.10" fill="#fff" stroke="#dc1426" stroke-width="1.8"/>
<circle cx="1756.84" cy="315.20" r="7.10" fill="#fff" stroke="#dc1426" stroke-width="1.8"/>
<circle cx="1811.90" cy="310.92" r="7.10" fill="#fff" stroke="#dc1426" stroke-width="1.8"/>
<circle cx="1866.95" cy="319.49" r="7.10" fill="#fff" stroke="#dc1426" stroke-width="1.8"/>
<circle cx="1922.01" cy="296.83" r="7.10" fill="#fff" stroke="#dc1426" stroke-width="1.8"/>
<circle cx="1591.68" cy="304.79" r="7.70" fill="#fe0306"/>
<circle cx="1646.74" cy="305.41" r="7.70" fill="#fe0306"/>
<circle cx="1701.79" cy="295.00" r="7.70" fill="#fe0306"/>
<circle cx="1756.84" cy="269.27" r="7.70" fill="#fe0306"/>
<circle cx="1811.90" cy="170.68" r="7.70" fill="#fe0306"/>
<circle cx="1866.95" cy="163.33" r="7.70" fill="#fe0306"/>
<circle cx="1922.01" cy="177.41" r="7.70" fill="#fe0306"/>
<line x1="1551.70" y1="113.20" x2="1584.40" y2="113.20" stroke="#dc1426" stroke-width="1.9"/>
<circle cx="1567.50" cy="113.20" r="7.70" fill="#fe0306"/>
<line x1="1551.70" y1="141.90" x2="1557.30" y2="141.90" stroke="#dc1426" stroke-width="1.9"/>
<line x1="1580.20" y1="141.90" x2="1584.40" y2="141.90" stroke="#dc1426" stroke-width="1.9"/>
<circle cx="1567.50" cy="141.90" r="7.10" fill="#fff" stroke="#dc1426" stroke-width="1.8"/>
<line x1="1551.70" y1="169.40" x2="1584.40" y2="169.40" stroke="#808080" stroke-width="1.9"/>
<rect x="1560.00" y="161.90" width="15.00" height="15.00" fill="#808080"/>
<text transform="translate(1603.04,123.40) scale(1,0.96)" style="font-size:22.73px">FNI9</text>
<text transform="translate(1603.04,152.10) scale(1,0.96)" style="font-size:22.73px">FNI9-GRLR</text>
<text transform="translate(1603.39,179.30) scale(1,0.96)" style="font-size:22.73px">isotype ctrl</text>
<text transform="translate(1456.65,42.20) scale(1,1.045)" style="font-size:33.54px">Antibody-dependent cell phagocytosis</text>
<text transform="translate(1684.67,80.60) scale(1,1.045)" style="font-size:34.39px">(ADCP)</text>
<text transform="translate(1678.26,503.00)" style="font-size:29.32px">mAb (ng/ml)</text>
<text transform="translate(1468.10,412.45) rotate(-90)" style="font-size:29.7px">% double positive cells</text>
<text transform="translate(1388.80,24.50)" style="font-size:32.5px;font-weight:bold">c</text>
<line x1="143.40" y1="590.15" x2="143.40" y2="895.55" stroke="#000" stroke-width="1.7"/>
<line x1="142.55" y1="894.70" x2="600.00" y2="894.70" stroke="#000" stroke-width="1.7"/>
<line x1="131.40" y1="894.70" x2="143.40" y2="894.70" stroke="#000" stroke-width="1.7"/>
<text transform="translate(127.20,905.30) scale(1,1.04)" style="font-size:30px" text-anchor="end">0</text>
<line x1="131.40" y1="793.47" x2="143.40" y2="793.47" stroke="#000" stroke-width="1.7"/>
<text transform="translate(127.20,804.07) scale(1,1.04)" style="font-size:30px" text-anchor="end">50</text>
<line x1="131.40" y1="692.23" x2="143.40" y2="692.23" stroke="#000" stroke-width="1.7"/>
<text transform="translate(127.20,702.83) scale(1,1.04)" style="font-size:30px" text-anchor="end">100</text>
<line x1="131.40" y1="591.00" x2="143.40" y2="591.00" stroke="#000" stroke-width="1.7"/>
<text transform="translate(127.20,601.60) scale(1,1.04)" style="font-size:30px" text-anchor="end">150</text>
<rect x="189.35" y="688.18" width="90.50" height="206.52" fill="#117d00" stroke="#000" stroke-width="1.7"/>
<circle cx="234.60" cy="686.97" r="6.2" fill="#000"/>
<line x1="234.60" y1="894.70" x2="234.60" y2="907.20" stroke="#000" stroke-width="1.7"/>
<text transform="translate(244.10,931.70) rotate(-45) scale(1,1.04)" style="font-size:30.0px" text-anchor="end">MEDI8852</text>
<rect x="326.05" y="651.01" width="90.50" height="243.69" fill="#fe0306" stroke="#000" stroke-width="1.7"/>
<circle cx="371.30" cy="650.00" r="6.2" fill="#000"/>
<line x1="371.30" y1="894.70" x2="371.30" y2="907.20" stroke="#000" stroke-width="1.7"/>
<text transform="translate(380.80,931.70) rotate(-45) scale(1,1.04)" style="font-size:30.0px" text-anchor="end">FNI9</text>
<rect x="462.75" y="841.25" width="90.50" height="53.45" fill="#fedfe0" stroke="#000" stroke-width="1.7"/>
<circle cx="508.00" cy="840.64" r="6.2" fill="#000"/>
<line x1="508.00" y1="894.70" x2="508.00" y2="907.20" stroke="#000" stroke-width="1.7"/>
<text transform="translate(517.50,931.70) rotate(-45) scale(1,1.04)" style="font-size:30.0px" text-anchor="end">FNI9-GRLR</text>
<text transform="translate(58.00,901.19) rotate(-90)" style="font-size:29.53px">CDC (specific lysis, AUC)</text>
<text transform="translate(0.20,546.20)" style="font-size:32.5px;font-weight:bold">d</text>
<line x1="864.20" y1="591.15" x2="864.20" y2="897.85" stroke="#000" stroke-width="1.7"/>
<line x1="863.35" y1="897.00" x2="1322.00" y2="897.00" stroke="#000" stroke-width="1.7"/>
<line x1="852.20" y1="897.00" x2="864.20" y2="897.00" stroke="#000" stroke-width="1.7"/>
<text transform="translate(848.10,907.60) scale(1,1.04)" style="font-size:30px" text-anchor="end">0</text>
<line x1="852.20" y1="795.33" x2="864.20" y2="795.33" stroke="#000" stroke-width="1.7"/>
<text transform="translate(848.10,805.93) scale(1,1.04)" style="font-size:30px" text-anchor="end">20</text>
<line x1="852.20" y1="693.67" x2="864.20" y2="693.67" stroke="#000" stroke-width="1.7"/>
<text transform="translate(848.10,704.27) scale(1,1.04)" style="font-size:30px" text-anchor="end">40</text>
<line x1="852.20" y1="592.00" x2="864.20" y2="592.00" stroke="#000" stroke-width="1.7"/>
<text transform="translate(848.10,602.60) scale(1,1.04)" style="font-size:30px" text-anchor="end">60</text>
<rect x="910.80" y="636.23" width="90.00" height="260.77" fill="#117d00" stroke="#000" stroke-width="1.7"/>
<circle cx="955.80" cy="635.72" r="6.2" fill="#000"/>
<line x1="955.80" y1="897.00" x2="955.80" y2="909.50" stroke="#000" stroke-width="1.7"/>
<text transform="translate(965.30,934.00) rotate(-45) scale(1,1.04)" style="font-size:30.0px" text-anchor="end">MEDI8852</text>
<rect x="1047.60" y="787.20" width="90.00" height="109.80" fill="#fe0306" stroke="#000" stroke-width="1.7"/>
<circle cx="1092.60" cy="786.69" r="6.2" fill="#000"/>
<line x1="1092.60" y1="897.00" x2="1092.60" y2="909.50" stroke="#000" stroke-width="1.7"/>
<text transform="translate(1102.10,934.00) rotate(-45) scale(1,1.04)" style="font-size:30.0px" text-anchor="end">FNI9</text>
<rect x="1184.70" y="843.12" width="90.00" height="53.88" fill="#fedfe0" stroke="#000" stroke-width="1.7"/>
<circle cx="1229.70" cy="842.10" r="6.2" fill="#000"/>
<line x1="1229.70" y1="897.00" x2="1229.70" y2="909.50" stroke="#000" stroke-width="1.7"/>
<text transform="translate(1239.20,934.00) rotate(-45) scale(1,1.04)" style="font-size:30.0px" text-anchor="end">FNI9-GRLR</text>
<text transform="translate(781.60,917.34) rotate(-90)" style="font-size:29.66px">ADCC (specific lysis, AUC)</text>
<text transform="translate(720.80,546.90)" style="font-size:32.5px;font-weight:bold">e</text>
<line x1="1534.60" y1="591.15" x2="1534.60" y2="899.05" stroke="#000" stroke-width="1.7"/>
<line x1="1533.75" y1="898.20" x2="1841.20" y2="898.20" stroke="#000" stroke-width="1.7"/>
<line x1="1522.10" y1="898.20" x2="1534.60" y2="898.20" stroke="#000" stroke-width="1.7"/>
<text transform="translate(1518.50,908.80) scale(1,1.04)" style="font-size:30px" text-anchor="end">0</text>
<line x1="1522.10" y1="821.65" x2="1534.60" y2="821.65" stroke="#000" stroke-width="1.7"/>
<text transform="translate(1518.50,832.25) scale(1,1.04)" style="font-size:30px" text-anchor="end">20</text>
<line x1="1522.10" y1="745.10" x2="1534.60" y2="745.10" stroke="#000" stroke-width="1.7"/>
<text transform="translate(1518.50,755.70) scale(1,1.04)" style="font-size:30px" text-anchor="end">40</text>
<line x1="1522.10" y1="668.55" x2="1534.60" y2="668.55" stroke="#000" stroke-width="1.7"/>
<text transform="translate(1518.50,679.15) scale(1,1.04)" style="font-size:30px" text-anchor="end">60</text>
<line x1="1522.10" y1="592.00" x2="1534.60" y2="592.00" stroke="#000" stroke-width="1.7"/>
<text transform="translate(1518.50,602.60) scale(1,1.04)" style="font-size:30px" text-anchor="end">80</text>
<rect x="1579.20" y="643.67" width="86.00" height="254.53" fill="#fe0306" stroke="#000" stroke-width="1.7"/>
<line x1="1622.20" y1="665.49" x2="1622.20" y2="620.71" stroke="#000" stroke-width="1.7"/>
<line x1="1600.45" y1="665.49" x2="1643.95" y2="665.49" stroke="#000" stroke-width="1.7"/>
<line x1="1600.45" y1="620.71" x2="1643.95" y2="620.71" stroke="#000" stroke-width="1.7"/>
<circle cx="1622.20" cy="627.21" r="6.1" fill="#000"/>
<circle cx="1622.20" cy="659.36" r="6.1" fill="#000"/>
<line x1="1622.20" y1="898.20" x2="1622.20" y2="910.20" stroke="#000" stroke-width="1.7"/>
<text transform="translate(1631.20,935.20) rotate(-45) scale(1,1.04)" style="font-size:30.0px" text-anchor="end">FNI9</text>
<rect x="1709.80" y="857.25" width="86.00" height="40.95" fill="#fedfe0" stroke="#000" stroke-width="1.7"/>
<line x1="1752.80" y1="864.90" x2="1752.80" y2="848.63" stroke="#000" stroke-width="1.7"/>
<line x1="1731.05" y1="864.90" x2="1774.55" y2="864.90" stroke="#000" stroke-width="1.7"/>
<line x1="1731.05" y1="848.63" x2="1774.55" y2="848.63" stroke="#000" stroke-width="1.7"/>
<circle cx="1739.70" cy="862.22" r="6.1" fill="#000"/>
<circle cx="1765.70" cy="851.12" r="6.1" fill="#000"/>
<line x1="1752.80" y1="898.20" x2="1752.80" y2="910.20" stroke="#000" stroke-width="1.7"/>
<text transform="translate(1761.80,935.20) rotate(-45) scale(1,1.04)" style="font-size:30.0px" text-anchor="end">FNI9-GRLR</text>
<text transform="translate(1450.50,934.45) rotate(-90)" style="font-size:29.57px">% double positvie cells (AUC)</text>
<text transform="translate(1400.80,546.70)" style="font-size:32.5px;font-weight:bold">f</text>
</svg>
</body></html>
